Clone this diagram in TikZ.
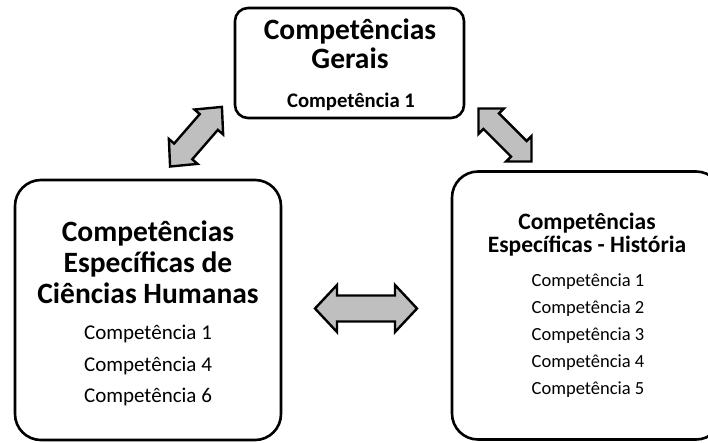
\documentclass[tikz,border=0pt]{standalone}
\usepackage{fontspec}
\setmainfont{Carlito}
\newcommand{\dblarr}[6]{% center, angle, L, w, h, k
  \draw[blockarrow, shift={(#1)}, rotate=#2]
    ({-#3/2},0) -- ({-#3/2+#6},#5) -- ({-#3/2+#6},#4) -- ({#3/2-#6},#4) -- ({#3/2-#6},#5)
    -- ({#3/2},0) -- ({#3/2-#6},{-#5}) -- ({#3/2-#6},{-#4}) -- ({-#3/2+#6},{-#4})
    -- ({-#3/2+#6},{-#5}) -- cycle;}
\begin{document}
\begin{tikzpicture}[x=1pt,y=-1pt,
  box/.style={draw=black, line width=2.6pt, inner sep=0pt},
  blockarrow/.style={draw=black, fill=arrowgray, line width=2.4pt, line join=miter},
  txt/.style={anchor=base, inner sep=0pt},
  bigtitle/.style={txt, font=\fontsize{29.5}{30}\selectfont\bfseries},
  midtitle/.style={txt, font=\fontsize{23.5}{24}\selectfont\bfseries},
  smallbold/.style={txt, font=\fontsize{20.7}{21}\selectfont\bfseries},
  itemL/.style={txt, font=\fontsize{21}{22}\selectfont},
  itemR/.style={txt, font=\fontsize{18.5}{19}\selectfont}]
\definecolor{arrowgray}{HTML}{BFBFBF}
\clip (0,0) rectangle (708,442);
% boxes
\node[box, rounded corners=13pt, minimum width=229pt, minimum height=110pt] (gerais) at (349.5,63) {};
\node[box, rounded corners=26pt, minimum width=266pt, minimum height=260pt] (humanas) at (148,310) {};
\node[box, rounded corners=26pt, minimum width=270pt, minimum height=268pt] (historia) at (587,305.5) {};
% top box text
\node[bigtitle] (g1) at (350,39.5) {Competências};
\node[bigtitle] (g2) at (350,68.5) {Gerais};
\node[smallbold] (g3) at (351,107) {Competência 1};
% left box text
\node[bigtitle] (h1) at (148,241.5) {Competências};
\node[bigtitle] (h2) at (148,272.5) {Específicas de};
\node[bigtitle] (h3) at (148,303.5) {Ciências Humanas};
\node[itemL] (h4) at (148,339) {Competência 1};
\node[itemL] (h5) at (148,371) {Competência 4};
\node[itemL] (h6) at (148,402) {Competência 6};
% right box text
\node[midtitle] (s1) at (587,229) {Competências};
\node[midtitle] (s2) at (587,252.5) {Específicas - História};
\node[itemR] (s3) at (588,286) {Competência 1};
\node[itemR] (s4) at (588,313) {Competência 2};
\node[itemR] (s5) at (588,340) {Competência 3};
\node[itemR] (s6) at (588,367) {Competência 4};
\node[itemR] (s7) at (588,394) {Competência 5};
% block arrows
\coordinate (aL) at (196,136.7);
\coordinate (aR) at (505,135);
\coordinate (aH) at (366,308.5);
\dblarr{aL}{49}{79}{12}{19}{20}
\dblarr{aR}{-45}{75}{11}{18}{18}
\dblarr{aH}{0}{102}{13}{23.5}{22}
\end{tikzpicture}
\end{document}
